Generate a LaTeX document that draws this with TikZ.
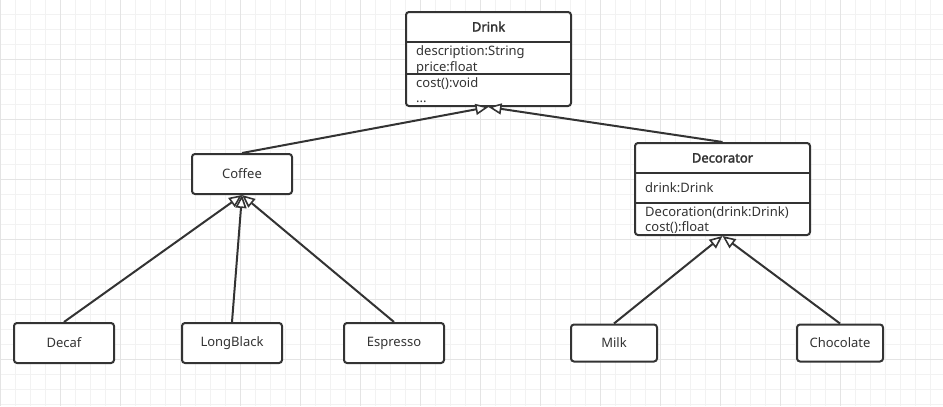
\documentclass[tikz,border=0pt]{standalone}
\usepackage{fontspec}
\setmainfont{Noto Sans}
\newfontfamily\titlefont{Noto Sans}[FakeBold=2.2]
\usetikzlibrary{arrows.meta}
\definecolor{ink}{HTML}{333333}
\definecolor{gridminor}{HTML}{F2F2F2}
\definecolor{gridmajor}{HTML}{E4E4E4}
\begin{document}
\begin{tikzpicture}[x=1pt,y=-1pt,
  box/.style={draw=ink, line width=2pt, rounded corners=3pt, fill=white, text=ink,
    font=\fontsize{13}{15}\selectfont, inner sep=0pt},
  lbl/.style={text=ink, font=\fontsize{13}{15}\selectfont, anchor=base west, inner sep=0pt},
  ttl/.style={text=ink, font=\titlefont\fontsize{13}{15}\selectfont, anchor=base, inner sep=0pt},
  sep/.style={draw=ink, line width=2pt},
  inh/.style={draw=ink, line width=2pt,
    -{Triangle[open, length=13pt, width=11pt, line width=1.6pt, fill=white]}},
  gmin/.style={draw=gridminor, line width=1pt},
  gmaj/.style={draw=gridmajor, line width=1pt},
]
\useasboundingbox[fill=white] (0,0) rectangle (943,407);
% grid
\foreach \x in {0.5,15.5,...,940} \draw[gmin] (\x,0) -- (\x,406);
\foreach \y in {14,29,...,404} \draw[gmin] (0,\y) -- (943,\y);
\foreach \x in {0.5,60.5,...,900} \draw[gmaj] (\x,0) -- (\x,406);
\foreach \y in {59,119,...,359} \draw[gmaj] (0,\y) -- (943,\y);

% Drink class
\node[box, minimum width=165pt, minimum height=94pt] (drink) at (488.5,59) {};
\draw[sep] (drink.west |- 0,42) -- (drink.east |- 0,42);
\draw[sep] (drink.west |- 0,74) -- (drink.east |- 0,74);
\node[ttl] (drinkT) at (488.5,31.5) {Drink};
\node[lbl] (drinkA1) at (416,55) {description:String};
\node[lbl] (drinkA2) at (416,71) {price:float};
\node[lbl] (drinkM1) at (416,87) {cost():void};
\node[lbl] (drinkM2) at (416,102.5) {...};

% Decorator class
\node[box, minimum width=175pt, minimum height=92pt] (deco) at (722.5,189) {};
\draw[sep] (deco.west |- 0,173) -- (deco.east |- 0,173);
\draw[sep] (deco.west |- 0,203) -- (deco.east |- 0,203);
\node[ttl] (decoT) at (722.5,162.5) {Decorator};
\node[lbl] (decoA1) at (645,192.5) {drink:Drink};
\node[lbl] (decoM1) at (645,216) {Decoration(drink:Drink)};
\node[lbl] (decoM2) at (645,231) {cost():float};

% simple boxes
\node[box, minimum width=100pt, minimum height=40pt] (coffee) at (242,174) {Coffee};
\node[box, minimum width=100pt, minimum height=40pt] (decaf) at (64,343) {Decaf};
\node[box, minimum width=100pt, minimum height=40pt] (longblack) at (232,343) {LongBlack};
\node[box, minimum width=100pt, minimum height=40pt] (espresso) at (394,343) {Espresso};
\node[box, minimum width=86pt, minimum height=37pt] (milk) at (614,343) {Milk};
\node[box, minimum width=86pt, minimum height=37pt] (chocolate) at (840,343) {Chocolate};

% inheritance connectors
\draw[inh] (coffee.north) -- (drink.south);
\draw[inh] (deco.north) -- (drink.south);
\draw[inh] (decaf.north) -- (coffee.south);
\draw[inh] (longblack.north) -- (coffee.south);
\draw[inh] (espresso.north) -- (coffee.south);
\draw[inh] (milk.north) -- (deco.south);
\draw[inh] (chocolate.north) -- (deco.south);
\end{tikzpicture}
\end{document}
